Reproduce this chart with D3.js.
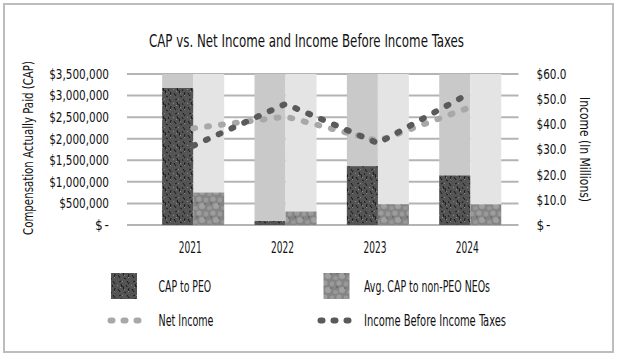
<!DOCTYPE html>
<html><head><meta charset="utf-8">
<script src="https://cdn.jsdelivr.net/npm/d3@7"></script>
<style>
html,body{margin:0;padding:0;background:#fff;}
text{font-family:"Liberation Sans Narrow","DejaVu Sans Condensed","Liberation Sans",sans-serif;fill:#111;white-space:pre;}
</style></head>
<body><svg id="chart" width="618" height="357"></svg>
<script>
const years = ["2021","2022","2023","2024"];
const capPEO = [3175000, 93000, 1363000, 1147000];
const capNEO = [752000, 311000, 481000, 478000];
const netIncome = [38.4, 43.1, 33.4, 46.8];
const incomeBeforeTaxes = [31.5, 48.1, 32.5, 52.5];
const leftTicks = [0,500000,1000000,1500000,2000000,2500000,3000000,3500000];
const rightTicks = [0,10,20,30,40,50,60];
const seriesNames = ["CAP to PEO","Avg. CAP to non-PEO NEOs","Net Income","Income Before Income Taxes"];
const titleText = "CAP vs. Net Income and Income Before Income Taxes";
const leftTitle = "Compensation Actually Paid (CAP)";
const rightTitle = "Income (In Millions)";

const svg = d3.select("#chart");
svg.append("rect").attr("x",4).attr("y",4).attr("width",609).attr("height",348)
  .attr("fill","#fff").attr("stroke","#bdbdbd").attr("stroke-width",2);

const defs = svg.append("defs");
const p1 = defs.append("pattern").attr("id","pPEO").attr("patternUnits","userSpaceOnUse").attr("width",14).attr("height",14);
p1.append("rect").attr("width",14).attr("height",14).attr("fill","#545454");
[[1,1,3,4],[7,2,9,1],[11,6,12,10],[3,8,2,12],[6,9,8,12],[9,4,10,7],[0,5,1,7],[12,12,14,13]].forEach(s=>{
  p1.append("line").attr("x1",s[0]).attr("y1",s[1]).attr("x2",s[2]).attr("y2",s[3]).attr("stroke","#111").attr("stroke-width",0.9);
});
[[5,5],[10,1],[2,11],[12,9],[8,7]].forEach(c=>{
  p1.append("rect").attr("x",c[0]).attr("y",c[1]).attr("width",1).attr("height",1).attr("fill","#8a8a8a");
});
const p2 = defs.append("pattern").attr("id","pNEO").attr("patternUnits","userSpaceOnUse").attr("width",14).attr("height",14);
p2.append("rect").attr("width",14).attr("height",14).attr("fill","#858585");
[[3,3,2.6,"#9d9d9d"],[10,4,2.4,"#999"],[6,10,3,"#a0a0a0"],[13,12,2,"#979797"],[0,12,2,"#979797"],[1,7,1.2,"#707070"],[9,8,1,"#707070"]].forEach(c=>{
  p2.append("circle").attr("cx",c[0]).attr("cy",c[1]).attr("r",c[2]).attr("fill",c[3]);
});

const plotLeft = 127, plotRight = 518.5;
const yL = d3.scaleLinear().domain([0,3500000]).range([225,74]);
const yR = d3.scaleLinear().domain([0,60]).range([225,74]);
const x = d3.scaleBand().domain(years).range([147,516.4]).padding(0);
const barW = 31;

svg.append("g").selectAll("line").data(leftTicks).join("line")
  .attr("x1",plotLeft).attr("x2",plotRight)
  .attr("y1",d=>yL(d)).attr("y2",d=>yL(d))
  .attr("stroke","#b4b4b4").attr("stroke-width",2);

const bg = svg.append("g");
years.forEach(yr=>{
  const cx = x(yr)+x.bandwidth()/2;
  bg.append("rect").attr("x",cx-barW).attr("width",barW).attr("y",yL(3500000)).attr("height",yL(0)-yL(3500000)).attr("fill","#c9c9c9");
  bg.append("rect").attr("x",cx).attr("width",barW).attr("y",yL(3500000)).attr("height",yL(0)-yL(3500000)).attr("fill","#e4e4e4");
});

svg.append("g").selectAll("rect").data(years).join("rect")
  .attr("x",d=>x(d)+x.bandwidth()/2-barW).attr("width",barW)
  .attr("y",(d,i)=>yL(capPEO[i])).attr("height",(d,i)=>yL(0)-yL(capPEO[i]))
  .attr("fill","url(#pPEO)");
svg.append("g").selectAll("rect").data(years).join("rect")
  .attr("x",d=>x(d)+x.bandwidth()/2).attr("width",barW)
  .attr("y",(d,i)=>yL(capNEO[i])).attr("height",(d,i)=>yL(0)-yL(capNEO[i]))
  .attr("fill","url(#pNEO)");

const line = d3.line().x((d,i)=>x(years[i])+x.bandwidth()/2).y(d=>yR(d));
const dash = "2,12";
svg.append("path").datum(netIncome).attr("d",line).attr("fill","none")
  .attr("stroke","#a8a8a8").attr("stroke-width",6).attr("stroke-linecap","round").attr("stroke-dasharray",dash);
svg.append("path").datum(incomeBeforeTaxes).attr("d",line).attr("fill","none")
  .attr("stroke","#5a5a5a").attr("stroke-width",6).attr("stroke-linecap","round").attr("stroke-dasharray",dash);

function squeeze(sel, k){
  sel.each(function(){
    const n = this.getComputedTextLength();
    d3.select(this).attr("textLength", n*k).attr("lengthAdjust","spacingAndGlyphs");
  });
}
const fmtL = d=> d===0 ? "$    -" : "$"+d3.format(",")(d);
const lt = svg.append("g").selectAll("text").data(leftTicks).join("text")
  .attr("x",109).attr("y",d=>yL(d)).attr("dy","0.36em").attr("text-anchor","end")
  .attr("font-size",13.5).text(fmtL);
lt.filter(d=>d!==0).call(squeeze,0.86);
lt.filter(d=>d===0).attr("textLength",14).attr("lengthAdjust","spacing");

const fmtR = d=> d===0 ? "$  -" : "$"+d3.format(".1f")(d);
const rt = svg.append("g").selectAll("text").data(rightTicks).join("text")
  .attr("x",536.5).attr("y",d=>yR(d)).attr("dy","0.36em").attr("text-anchor","start")
  .attr("font-size",13.5).text(fmtR);
rt.filter(d=>d!==0).call(squeeze,0.86);
rt.filter(d=>d===0).attr("textLength",14).attr("lengthAdjust","spacing");

svg.append("g").selectAll("text").data(years).join("text")
  .attr("x",d=>x(d)+x.bandwidth()/2-3).attr("y",253).attr("text-anchor","middle")
  .attr("font-size",16).attr("textLength",23).attr("lengthAdjust","spacingAndGlyphs").text(d=>d);

svg.append("text").attr("x",306.5).attr("y",47).attr("text-anchor","middle")
  .attr("font-size",18.5).attr("textLength",315).attr("lengthAdjust","spacingAndGlyphs").text(titleText);

svg.append("text").attr("transform","translate(33,148) rotate(-90)").attr("text-anchor","middle")
  .attr("font-size",14).attr("textLength",174).attr("lengthAdjust","spacingAndGlyphs").text(leftTitle);
svg.append("text").attr("transform","translate(580,149.5) rotate(90)").attr("text-anchor","middle")
  .attr("font-size",14).attr("textLength",105).attr("lengthAdjust","spacingAndGlyphs").text(rightTitle);

const lg = svg.append("g");
const legendItems = [
  {name:seriesNames[0], type:"rect", fill:"url(#pPEO)", x:111, y:286, w:52.7},
  {name:seriesNames[1], type:"rect", fill:"url(#pNEO)", x:323.5, y:286, w:126},
  {name:seriesNames[2], type:"line", stroke:"#a8a8a8", x:108, y:320.5, w:55},
  {name:seriesNames[3], type:"line", stroke:"#5a5a5a", x:318, y:320.5, w:142}
];
legendItems.forEach(it=>{
  if(it.type==="rect"){
    lg.append("rect").attr("x",it.x).attr("y",it.y-13).attr("width",26).attr("height",26).attr("fill",it.fill);
  } else {
    lg.append("line").attr("x1",it.x+2.5).attr("x2",it.x+35).attr("y1",it.y).attr("y2",it.y)
      .attr("stroke",it.stroke).attr("stroke-width",6).attr("stroke-linecap","round").attr("stroke-dasharray","2,11");
  }
  const tx = it.x < 200 ? 158.5 : 364;
  lg.append("text").attr("x",tx).attr("y",it.y).attr("dy","0.36em")
    .attr("font-size",16).attr("textLength",it.w).attr("lengthAdjust","spacingAndGlyphs").text(it.name);
});
</script></body></html>
